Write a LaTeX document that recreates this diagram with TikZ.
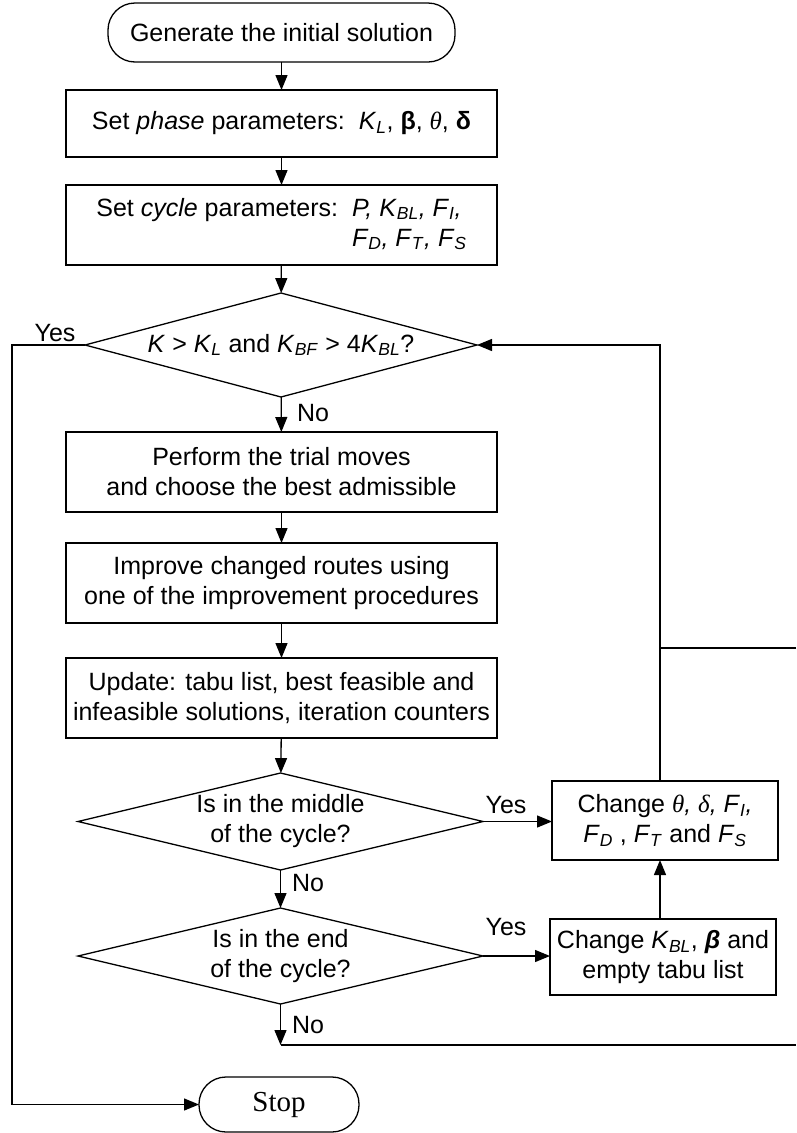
\documentclass[tikz,border=0pt]{standalone}
\usepackage{fontspec}
\setmainfont{Liberation Sans}
\newfontfamily\timesfont{Liberation Serif}
\usetikzlibrary{arrows.meta,shapes.geometric}
\newcommand{\iv}[2]{\textit{#1}\textsubscript{\textit{#2}}} % italic variable with subscript
\newcommand{\sertheta}{{\timesfont\itshape θ}}
\newcommand{\serdelta}{{\timesfont\itshape δ}}
\begin{document}
\begin{tikzpicture}[x=1pt,y=-1pt,line width=1.3pt,
    font=\fontsize{25}{30}\selectfont,
    >={Triangle[length=15pt,width=12pt]},
    procbox/.style={draw, rectangle, inner sep=0pt, outer sep=0pt, align=center},
    termbox/.style={draw, rectangle, rounded corners=27pt, inner sep=0pt, outer sep=0pt},
    decbox/.style={draw, diamond, inner sep=0pt, outer sep=0pt, align=center},
    lbl/.style={inner sep=0pt}]

    % frame of the page
    \useasboundingbox (0,0) rectangle (796,1133);

    % main column
    \node[termbox, minimum width=347pt, minimum height=59pt] (start) at (281.5,32.5) {Generate the initial solution};
    \node[procbox, minimum width=431pt, minimum height=67pt] (phase) at (281.5,123.5) {Set \textit{phase} parameters:\ \ \iv{K}{L}, \textbf{β},\ \sertheta, \textbf{δ}};
    \node[procbox, minimum width=431pt, minimum height=80pt] (cycle) at (281.5,225) {\begin{tabular}{@{}l@{\ \ }l@{}}Set \textit{cycle} parameters: & \textit{P,} \iv{K}{BL}\textit{,} \iv{F}{I}\textit{,}\\ & \iv{F}{D}\textit{,} \iv{F}{T}\textit{,} \iv{F}{S}\end{tabular}};
    \node[decbox, aspect=3.77, minimum width=392pt, minimum height=104pt] (stopq) at (281,345) {\textit{K} > \iv{K}{L} and \iv{K}{BF} > 4\iv{K}{BL}?};
    \node[procbox, minimum width=431pt, minimum height=80pt] (trial) at (281.5,472) {Perform the trial moves\\and choose the best admissible};
    \node[procbox, minimum width=431pt, minimum height=80pt] (improve) at (281.5,583) {Improve changed routes using\\one of the improvement procedures};
    \node[procbox, minimum width=431pt, minimum height=80pt] (update) at (281.5,698) {Update: tabu list, best feasible and\\infeasible solutions, iteration counters};
    \node[decbox, aspect=4.18, minimum width=405pt, minimum height=97pt] (midq) at (280.5,821.5) {Is in the middle\\of the cycle?};
    \node[decbox, aspect=4.18, minimum width=405pt, minimum height=96pt] (endq) at (280.5,956) {Is in the end\\of the cycle?};
    \node[termbox, minimum width=160pt, minimum height=55pt] (stop) at (279,1104.5) {\timesfont\fontsize{29}{30}\selectfont Stop};

    % right column
    \node[procbox, minimum width=226pt, minimum height=79pt] (chgA) at (665,820.5) {Change \sertheta\textit{,} \serdelta\textit{,} \iv{F}{I}\textit{,}\\\iv{F}{D} , \iv{F}{T} and \iv{F}{S}};
    \node[procbox, minimum width=226pt, minimum height=76pt] (chgB) at (663,957) {Change \iv{K}{BL}, \textbf{\textit{β}} and\\empty tabu list};

    % loose ends at the right edge
    \coordinate (loopx) at (660,0);
    \coordinate (inA) at (796,648);
    \coordinate (inB) at (796,1045);
    \coordinate (leftx) at (12,0);

    % arrows down the main column
    \draw[->] (start) -- (phase);
    \draw[->] (phase) -- (cycle);
    \draw[->] (cycle) -- (stopq);
    \draw[->] (stopq) -- (trial);
    \draw[->] (trial) -- (improve);
    \draw[->] (improve) -- (update);
    \draw[->] (update) -- (midq);
    \draw[->] (midq) -- (endq);
    \draw[->] (endq.south) -- (endq.south |- inB);
    \draw (endq.south |- inB) -- (inB);

    % yes branches
    \draw[->] (midq.east) -- (chgA.west |- midq.east);
    \draw[->] (endq.east) -- (chgB.west |- endq.east);
    \draw[->] (chgB.north -| loopx) -- (chgA.south -| loopx);
    \draw[->] (chgA.north -| loopx) -- (loopx |- stopq.east) -- (stopq.east);
    \draw (inA) -- (inA -| loopx);

    % exit to stop
    \draw[->] (stopq.west) -- (leftx |- stopq.west) -- (leftx |- stop.west) -- (stop.west);

    % labels
    \node[lbl] (yes1) at (55,333) {Yes};
    \node[lbl] (no1) at (313,413) {No};
    \node[lbl] (yes2) at (506,805) {Yes};
    \node[lbl] (no2) at (308,883) {No};
    \node[lbl] (yes3) at (506,927) {Yes};
    \node[lbl] (no3) at (308,1025) {No};

\end{tikzpicture}
\end{document}
